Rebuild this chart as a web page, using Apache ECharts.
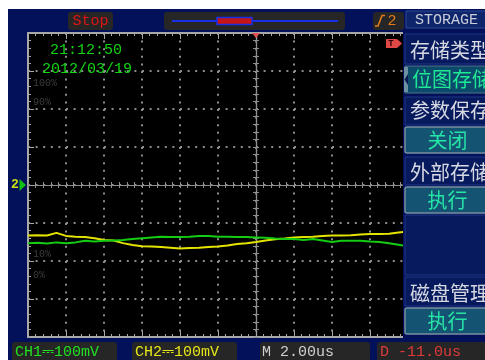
<!DOCTYPE html>
<html>
<head>
<meta charset="utf-8">
<script src="https://cdn.jsdelivr.net/npm/echarts@6/dist/echarts.min.js"></script>
<style>
  html, body { margin: 0; padding: 0; background: #fff; }
  #scope { width: 485px; height: 360px; }
</style>
</head>
<body>
<div id="scope"></div>
<script>
// Sample times in microseconds (2 µs/div, trigger point at 0)
const timeUs = [-12,-11.5,-11,-10.5,-10,-9.5,-9,-8.5,-8,-7.5,-7,-6.5,-6,-5.5,-5,-4.5,-4,-3.5,-3,-2.5,-2,-1.5,-1,-0.5,0,0.5,1,1.5,2,2.5,3,3.5,4,4.5,5,5.5,6,6.5,7,7.5,7.74];
// CH1 (green) in mV
const ch1mV = [-153,-152,-154,-151,-153,-151,-147,-149,-147,-146,-145,-142,-140,-138,-136,-137,-137,-136,-134,-134,-136,-136,-137,-137,-138,-139,-141,-142,-142,-145,-142,-146,-150,-147,-147,-147,-149,-150,-153,-157,-159];
// CH2 (yellow) in mV
const ch2mV = [-133,-132,-133,-126,-134,-136,-137,-140,-145,-146,-153,-158,-161,-162,-163,-165,-167,-166,-165,-163,-162,-159,-155,-153,-150,-146,-143,-141,-138,-137,-136,-134,-133,-133,-132,-130,-129,-129,-128,-125,-124];

// Screen texts
const statusTexts = ['CH1\u2393100mV', 'CH2\u2393100mV', 'M 2.00us', 'D -11.0us'];
const menuTitle = 'STORAGE';
const menuLabels = ['存储类型', '参数保存', '外部存储', '磁盘管理'];
const menuValues = ['位图存储', '关闭', '执行', '执行'];
const levelLabels = ['100%', '90%', '10%', '0%'];
const clockTime = '21:12:50';
const clockDate = '2012/03/19';

const NAVY = '#03115a';
const GRAY = '#a8a8a8';
const MONO = '"Liberation Mono", "DejaVu Sans Mono", monospace';
const CJK = '"Noto Sans CJK SC", sans-serif';
const PLOT = { left: 28, top: 33, width: 380, height: 304 };

function hidden(o) {
  o.axisLabel = { show: false };
  return o;
}
function borderAxis(pos) {
  return hidden({
    type: 'value', gridIndex: 0, position: pos, min: -12, max: 8, interval: 2, z: 5,
    axisLine: { show: true, onZero: false, lineStyle: { color: GRAY, width: 2 } },
    axisTick: { show: true, inside: true, length: 6, lineStyle: { color: GRAY, width: 1 } },
    minorTick: { show: true, splitNumber: 5, length: 3, lineStyle: { color: GRAY, width: 1 } },
    splitLine: { show: false }
  });
}
function centerXAxis(inside) {
  return hidden({
    type: 'value', gridIndex: 0, position: 'bottom', min: -12, max: 8, interval: 2, z: 5,
    axisLine: { show: true, onZero: true, onZeroAxisIndex: 0, lineStyle: { color: '#8e8e8e', width: 1.2 } },
    axisTick: { show: true, inside: inside, length: 3, lineStyle: { color: '#8e8e8e', width: 1 } },
    minorTick: { show: true, splitNumber: 5, length: 3, lineStyle: { color: '#8e8e8e', width: 1 } },
    splitLine: { show: false }
  });
}
function borderYAxis() {
  return hidden({
    type: 'value', gridIndex: 0, position: 'left', min: -400, max: 400, interval: 100, z: 5,
    axisLine: { show: true, onZero: false, lineStyle: { color: GRAY, width: 2 } },
    axisTick: { show: true, inside: true, length: 6, lineStyle: { color: GRAY, width: 1 } },
    minorTick: { show: true, splitNumber: 5, length: 3, lineStyle: { color: GRAY, width: 1 } },
    splitLine: { show: false }
  });
}
function centerYAxis(inside) {
  return hidden({
    type: 'value', gridIndex: 0, position: 'left', min: -400, max: 400, interval: 100, z: 5,
    axisLine: { show: true, onZero: true, onZeroAxisIndex: 0, lineStyle: { color: '#8e8e8e', width: 1.2 } },
    axisTick: { show: true, inside: inside, length: 3, lineStyle: { color: '#8e8e8e', width: 1 } },
    minorTick: { show: true, splitNumber: 5, length: 3, lineStyle: { color: '#8e8e8e', width: 1 } },
    splitLine: { show: false }
  });
}
// second, overlaid grid that only carries the dotted division lines
function dotAxis(isX) {
  return hidden({
    type: 'value', gridIndex: 1, position: isX ? 'bottom' : 'left',
    min: isX ? -12 : -400, max: isX ? 8 : 400, interval: isX ? 2 : 100, z: 4,
    axisLine: { show: false, onZero: false }, axisTick: { show: false },
    splitLine: { show: true, lineStyle: { color: '#8c8c8c', width: 2, type: [2, 5.6], dashOffset: 0 } }
  });
}

function rect(x, y, w, h, fill, z, stroke, lw, r) {
  return { type: 'rect', z: z, silent: true, shape: { x: x, y: y, width: w, height: h, r: r || 0 },
           style: { fill: fill, stroke: stroke || null, lineWidth: lw || 0 } };
}
function label(str, x, y, color, font, align) {
  return { type: 'text', z: 80, silent: true,
           style: { text: str, x: x, y: y, fill: color, font: font, align: align || 'left', verticalAlign: 'middle' } };
}

const g = [];
// instrument screen background
g.push(rect(8, 9, 477, 351, NAVY, -10));
// strip right of the waveform area, under the menu
g.push(rect(403, 9, 82, 330, NAVY, 50));

// top bar
g.push(rect(68, 12, 45, 18, '#262626', 60, null, 0, 3));
g.push(label('Stop', 90.5, 21.5, '#e01414', '15px ' + MONO, 'center'));
g.push(rect(164, 12, 181, 18, '#262626', 60, null, 0, 3));
g.push({ type: 'line', z: 70, silent: true, shape: { x1: 172, y1: 21, x2: 338, y2: 21 }, style: { stroke: '#1a2ee6', lineWidth: 2 } });
g.push(rect(217, 17.5, 35, 7, '#c41616', 72, '#1a2ee6', 1.5));
g.push(rect(373, 12, 31, 18, '#262626', 60, null, 0, 3));
g.push({ type: 'polyline', z: 70, silent: true, shape: { points: [[375, 26], [378, 26], [382, 15.5], [385, 15.5]] }, style: { stroke: '#e07a1c', lineWidth: 1.6, fill: null } });
g.push(label('2', 392, 21.5, '#e07a1c', '15px ' + MONO, 'center'));

// clock
g.push(label(clockTime, 50, 50, '#14d414', '15px ' + MONO));
g.push(label(clockDate, 42, 69, '#14d414', '15px ' + MONO));

// level labels
const levelY = [83, 102, 254, 275];
levelLabels.forEach(function (s, i) { g.push(label(s, 33, levelY[i], '#3c3c3c', '10px ' + MONO)); });

// channel 2 ground marker
g.push(label('2', 15, 185, '#c8e010', 'bold 13px ' + MONO, 'center'));
g.push({ type: 'polygon', z: 70, silent: true, shape: { points: [[19.5, 179], [26, 185], [19.5, 191]] }, style: { fill: '#12c012' } });

// trigger position and level markers
g.push({ type: 'polygon', z: 70, silent: true, shape: { points: [[252, 33], [260, 33], [256, 38]] }, style: { fill: '#e05050' } });
g.push({ type: 'polygon', z: 70, silent: true, shape: { points: [[386, 39], [397, 39], [402, 43.5], [397, 48], [386, 48]] }, style: { fill: '#e04848' } });
g.push(label('T', 391, 44, '#2a0000', 'bold 9px ' + MONO, 'center'));

// menu panel
g.push(rect(406, 11, 82, 17, '#0e256c', 60, '#2c4a96', 1));
g.push(label(menuTitle, 415, 20, '#c8ccd8', '15px ' + MONO));

const labelBoxes = [[34, 30], [97, 28], [157, 28], [277, 29]];
const labelTextY = [50.5, 110, 172, 293];
menuLabels.forEach(function (s, i) {
  g.push(rect(405, labelBoxes[i][0], 84, labelBoxes[i][1], '#081a5e', 60, '#1f3682', 1));
  g.push(label(s, 410, labelTextY[i], '#d6d8e2', '20px ' + CJK));
});
g.push(rect(405, 215, 84, 60, '#081a5e', 60, '#1f3682', 1));

// selected value (with pointer)
g.push(rect(405, 66, 84, 27, '#0c4a6c', 60, '#4f7288', 1));
g.push(rect(404, 67, 4, 25, '#6e8ea2', 62));
g.push({ type: 'polygon', z: 64, silent: true, shape: { points: [[408, 74], [404.5, 79.5], [408, 85]] }, style: { fill: '#0a1a50' } });
g.push(label(menuValues[0], 412, 79, '#1fe894', '20px ' + CJK));

const valueBoxes = [127, 187, 308];
const valueTextY = [140, 200, 321];
for (let i = 1; i < menuValues.length; i++) {
  g.push(rect(405, valueBoxes[i - 1], 84, 26, '#145372', 60, '#7890a0', 1.5, 2));
  g.push(label(menuValues[i], 447.5, valueTextY[i - 1], '#26e4a6', '20px ' + CJK, 'center'));
}

// status bar
const statusBoxes = [[12, 105], [132, 105], [260, 110], [377, 110]];
const statusStart = [15, 135, 262, 380];
const statusColors = ['#22e022', '#e6e61a', '#d0d0d0', '#e03a3a'];
statusTexts.forEach(function (s, i) {
  g.push(rect(statusBoxes[i][0], 342, statusBoxes[i][1], 22, '#262626', 60, null, 0, 3));
  g.push(label(s, statusStart[i], 352, statusColors[i], '15px ' + MONO));
});

const chart = echarts.init(document.getElementById('scope'), null, { renderer: 'canvas' });
chart.setOption({
  animation: false,
  backgroundColor: '#ffffff',
  grid: [
    Object.assign({ show: true, backgroundColor: '#000000', borderWidth: 0 }, PLOT),
    Object.assign({ show: false }, PLOT)
  ],
  xAxis: [borderAxis('bottom'), borderAxis('top'), centerXAxis(true), centerXAxis(false), dotAxis(true)],
  yAxis: [borderYAxis(), centerYAxis(true), centerYAxis(false), dotAxis(false)],
  series: [
    { name: 'CH2', type: 'line', xAxisIndex: 0, yAxisIndex: 0, symbol: 'none', z: 6,
      data: timeUs.map(function (t, i) { return [t, ch2mV[i]]; }),
      lineStyle: { color: '#e4e400', width: 2 } },
    { name: 'CH1', type: 'line', xAxisIndex: 0, yAxisIndex: 0, symbol: 'none', z: 7,
      data: timeUs.map(function (t, i) { return [t, ch1mV[i]]; }),
      lineStyle: { color: '#14cc14', width: 2 } }
  ],
  graphic: { elements: g }
});
</script>
</body>
</html>
